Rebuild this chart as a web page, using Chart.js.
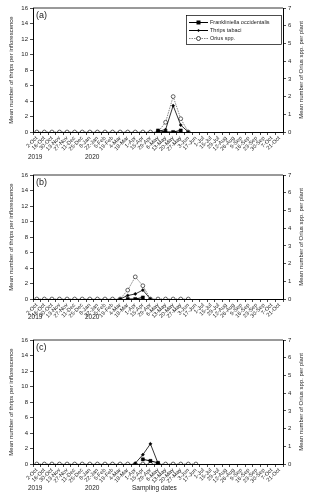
<!DOCTYPE html>
<html>
<head>
<meta charset="utf-8">
<script src="https://cdn.jsdelivr.net/npm/chart.js@4.4.0/dist/chart.umd.min.js"></script>
<style>
  body { margin: 0; width: 310px; height: 500px; background: #fff; position: relative; overflow: hidden;
         font-family: "Liberation Sans", Arial, sans-serif; color: #222; }
  .panel { position: absolute; left: 0; width: 310px; height: 166px; }
  .txt { position: absolute; white-space: nowrap; line-height: 1; }
  .ytitle { position: absolute; white-space: nowrap; font-size: 6px; line-height: 1;
            transform: translate(-50%, -50%) rotate(-90deg); }
</style>
</head>
<body>
<div class="panel" style="top:0px"><canvas id="chartA" width="310" height="166"></canvas></div>
<div class="panel" style="top:167px"><canvas id="chartB" width="310" height="166"></canvas></div>
<div class="panel" style="top:332px"><canvas id="chartC" width="310" height="166"></canvas></div>

<div class="txt" style="left:36px;top:11px;font-size:9px">(a)</div>
<div class="txt" style="left:36px;top:178px;font-size:9px">(b)</div>
<div class="txt" style="left:36px;top:343px;font-size:9px">(c)</div>

<div class="txt" style="left:28px;top:154px;font-size:6.5px">2019</div>
<div class="txt" style="left:85px;top:154px;font-size:6.5px">2020</div>
<div class="txt" style="left:28px;top:314px;font-size:6.5px">2019</div>
<div class="txt" style="left:85px;top:314px;font-size:6.5px">2020</div>
<div class="txt" style="left:28px;top:485px;font-size:6.5px">2019</div>
<div class="txt" style="left:85px;top:485px;font-size:6.5px">2020</div>
<div class="txt" style="left:132px;top:485px;font-size:6.5px">Sampling dates</div>

<div class="ytitle" style="left:11px;top:70px">Mean number of thrips per inflorescence</div>
<div class="ytitle" style="left:11px;top:237px">Mean number of thrips per inflorescence</div>
<div class="ytitle" style="left:11px;top:402px">Mean number of thrips per inflorescence</div>
<div class="ytitle" style="left:301px;top:70px">Mean number of Orius spp. per plant</div>
<div class="ytitle" style="left:301px;top:237px">Mean number of Orius spp. per plant</div>
<div class="ytitle" style="left:301px;top:402px">Mean number of Orius spp. per plant</div>

<script>
// sampling dates (2019-2020)
const dates = ['2-Oct','16-Oct','30-Oct','13-Nov','27-Nov','11-Dec','25-Dec','8-Jan','22-Jan','5-Feb',
  '19-Feb','4-Mar','18-Mar','1-Apr','15-Apr','29-Apr','6-May','13-May','20-May','27-May',
  '3-Jun','17-Jun','1-Jul','15-Jul','29-Jul','12-Aug','26-Aug','9-Sep','16-Sep','23-Sep',
  '30-Sep','7-Oct','21-Oct'];

const seriesNames = ['Frankliniella occidentalis', 'Thrips tabaci', 'Orius spp.'];

// (a)  thrips only counted while inflorescences were present
const occA = [null,null,null,null,null,null,null,null,null,null, null,null,null,null,null,null,0.2,0,0,0.2, null,null,null,null,null,null,null,null,null,null, null,null,null];
const tabA = [null,null,null,null,null,null,null,null,null,null, null,null,null,null,null,null,0.1,0.3,3.4,0.9, 0,null,null,null,null,null,null,null,null,null, null,null,null];
const oriA = [0,0,0,0,0,0,0,0,0,0, 0,0,0,0,0,0,0,0.55,2.0,0.75, 0,null,null,null,null,null,null,null,null,null, null,null,null];
// (b)
const occB = [null,null,null,null,null,null,null,null,null,null, null,null,0,0,0.2,null,null,null,null,null, null,null,null,null,null,null,null,null,null,null, null,null,null];
const tabB = [null,null,null,null,null,null,null,null,null,null, null,0,0.45,0.65,1.15,0,null,null,null,null, null,null,null,null,null,null,null,null,null,null, null,null,null];
const oriB = [0,0,0,0,0,0,0,0,0,0, 0,0,0.5,1.25,0.75,0,0,0,0,0, 0,null,null,null,null,null,null,null,null,null, null,null,null];
// (c)
const occC = [null,null,null,null,null,null,null,null,null,null, null,null,null,null,0.6,0.4,0.15,null,null,null, null,null,null,null,null,null,null,null,null,null, null,null,null];
const tabC = [null,null,null,null,null,null,null,null,null,null, null,null,null,0.1,1.2,2.6,0.1,null,null,null, null,null,null,null,null,null,null,null,null,null, null,null,null];
const oriC = [0,0,0,0,0,0,0,0,0,0, 0,0,0,0,0,0,0,0,0,0, 0,0,null,null,null,null,null,null,null,null, null,null,null];

const thripsMax = 16, thripsStep = 2;
const oriusMax = 7, oriusStep = 1;

const FONT = '"Liberation Sans", Arial, sans-serif';

// top border of the plot box
const frame = {
  id: 'frame',
  afterDraw(chart) {
    const a = chart.chartArea, ctx = chart.ctx;
    ctx.save();
    ctx.strokeStyle = '#000';
    ctx.lineWidth = 0.8;
    ctx.beginPath();
    ctx.moveTo(a.left, a.top);
    ctx.lineTo(a.right, a.top);
    ctx.stroke();
    ctx.restore();
  }
};

// legend box inside panel (a)
const legendBox = {
  id: 'legendBox',
  afterDraw(chart) {
    const ctx = chart.ctx;
    const x = 186, y = 15, w = 95, h = 29;
    ctx.save();
    ctx.fillStyle = '#fff';
    ctx.fillRect(x, y, w, h);
    ctx.strokeStyle = '#000';
    ctx.lineWidth = 0.7;
    ctx.strokeRect(x + 0.5, y + 0.5, w, h);
    const rows = [22.5, 30.5, 38.5];
    ctx.font = '5.5px ' + FONT;
    ctx.textBaseline = 'middle';
    rows.forEach((ry, i) => {
      ctx.beginPath();
      ctx.lineWidth = i === 2 ? 0.8 : 1;
      ctx.strokeStyle = i === 2 ? '#666' : '#000';
      ctx.setLineDash(i === 2 ? [1.5, 1] : []);
      ctx.moveTo(189, ry);
      ctx.lineTo(208, ry);
      ctx.stroke();
      ctx.setLineDash([]);
      ctx.fillStyle = '#000';
      ctx.strokeStyle = '#000';
      if (i === 0) {
        ctx.fillRect(196.5, ry - 2, 4, 4);
      } else if (i === 1) {
        ctx.beginPath();
        ctx.moveTo(198.5, ry - 1.6); ctx.lineTo(200.1, ry); ctx.lineTo(198.5, ry + 1.6); ctx.lineTo(196.9, ry);
        ctx.closePath(); ctx.fill();
      } else {
        ctx.beginPath();
        ctx.fillStyle = '#fff';
        ctx.arc(198.5, ry, 2, 0, Math.PI * 2);
        ctx.fill();
        ctx.lineWidth = 0.7;
        ctx.stroke();
      }
      ctx.fillStyle = '#222';
      ctx.fillText(seriesNames[i], 210, ry);
    });
    ctx.restore();
  }
};

function makeChart(id, occ, tab, ori, withLegend) {
  const ctx = document.getElementById(id);
  return new Chart(ctx, {
    type: 'line',
    data: {
      labels: dates,
      datasets: [{
        label: seriesNames[0],
        data: occ,
        yAxisID: 'y',
        borderColor: '#000',
        borderWidth: 1,
        pointStyle: 'rect',
        pointRadius: 2.2,
        pointBackgroundColor: '#000',
        pointBorderColor: '#000',
        pointBorderWidth: 0.5
      }, {
        label: seriesNames[1],
        data: tab,
        yAxisID: 'y',
        borderColor: '#000',
        borderWidth: 0.8,
        pointStyle: 'rectRot',
        pointRadius: 1.6,
        pointBackgroundColor: '#000',
        pointBorderColor: '#000',
        pointBorderWidth: 0.5
      }, {
        label: seriesNames[2],
        data: ori,
        yAxisID: 'y1',
        borderColor: '#666',
        borderWidth: 0.8,
        borderDash: [1.5, 1],
        pointStyle: 'circle',
        pointRadius: 1.9,
        pointBackgroundColor: '#fff',
        pointBorderColor: '#222',
        pointBorderWidth: 0.7
      }]
    },
    options: {
      responsive: false,
      animation: false,
      devicePixelRatio: 1,
      layout: { padding: { top: 8, left: 0, right: 0, bottom: 0 } },
      plugins: { legend: { display: false }, tooltip: { enabled: false } },
      scales: {
        x: {
          offset: true,
          grid: { offset: true, drawOnChartArea: false, tickLength: 3, color: '#000', lineWidth: 0.7 },
          border: { color: '#000', width: 1 },
          ticks: {
            autoSkip: false, minRotation: 45, maxRotation: 45, padding: 0,
            color: '#222', font: { size: 5.5, family: FONT }
          },
          afterFit: s => { s.height = 34; }
        },
        y: {
          position: 'left',
          min: 0, max: thripsMax,
          grid: { drawOnChartArea: false, tickLength: 3, color: '#000', lineWidth: 0.7 },
          border: { color: '#000', width: 1 },
          ticks: { stepSize: thripsStep, padding: 2, color: '#222', font: { size: 6, family: FONT } },
          afterFit: s => { s.width = 33; }
        },
        y1: {
          position: 'right',
          min: 0, max: oriusMax,
          grid: { drawOnChartArea: false, tickLength: 3, color: '#000', lineWidth: 0.7 },
          border: { color: '#000', width: 1 },
          ticks: { stepSize: oriusStep, padding: 2, color: '#222', font: { size: 6, family: FONT } },
          afterFit: s => { s.width = 27; }
        }
      }
    },
    plugins: withLegend ? [frame, legendBox] : [frame]
  });
}

makeChart('chartA', occA, tabA, oriA, true);
makeChart('chartB', occB, tabB, oriB, false);
makeChart('chartC', occC, tabC, oriC, false);
</script>
</body>
</html>
